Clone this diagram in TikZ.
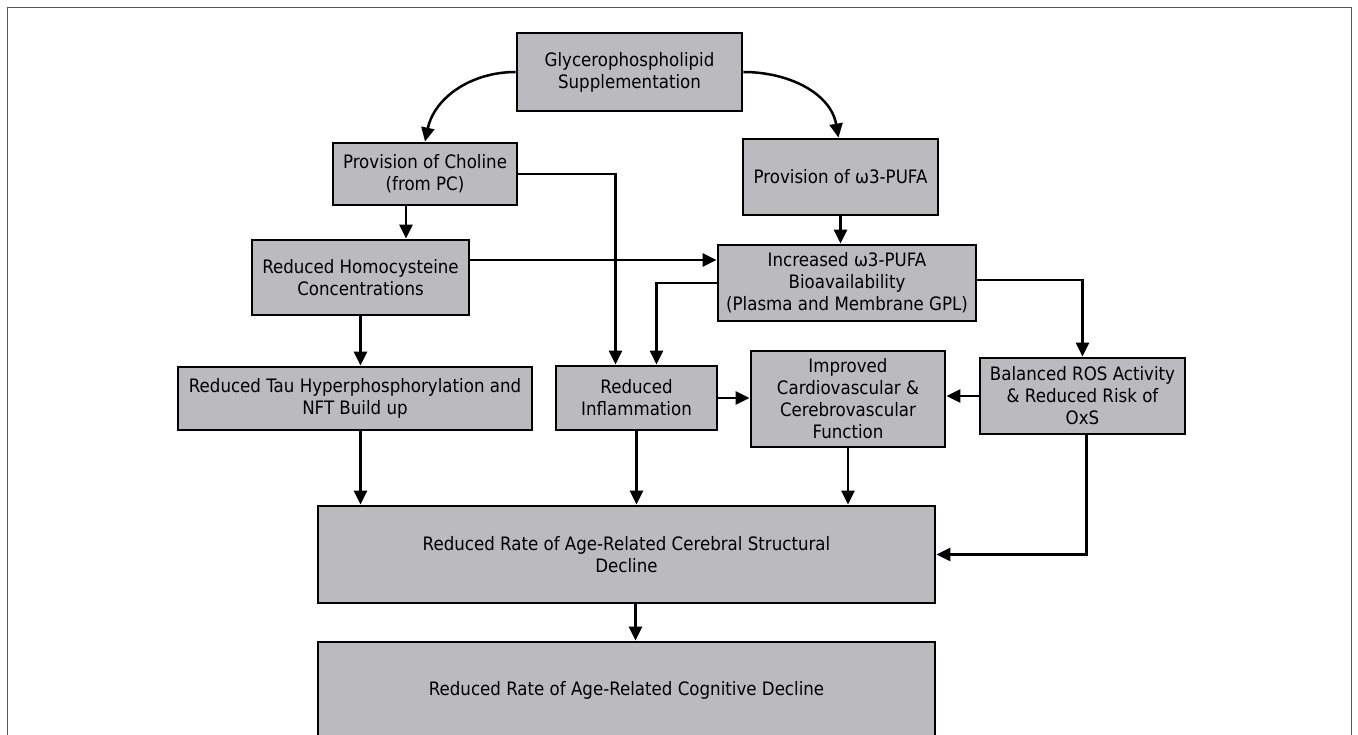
\documentclass[tikz,border=0pt]{standalone}
\usepackage{fontspec}
\setmainfont{DejaVu Sans}[FakeStretch=0.9]
\usetikzlibrary{arrows.meta}
\definecolor{boxgray}{RGB}{187,187,191}
\definecolor{framegray}{RGB}{90,90,90}
\tikzset{
  blk/.style={draw, line width=2.8pt, fill=boxgray, align=center, inner sep=0pt,
    font=\fontsize{18.5pt}{22pt}\selectfont},
  arr/.style={line width=2.5pt, -{Triangle[length=14pt,width=13pt]}}
}

\begin{document}
\begin{tikzpicture}[x=1pt,y=-1pt]
            \useasboundingbox (0,0) rectangle (1358,735);
            \clip (0,0) rectangle (1358,735);
            % frame
            \draw [line width=1pt, framegray] (7,740) -- (7,8) -- (1351,8) -- (1351,740);
            % top row
            \node [blk, minimum width=225pt, minimum height=78pt] (glyc) at (629.5,72) {Glycerophospholipid\\Supplementation};
            \node [blk, minimum width=184pt, minimum height=62pt] (chol) at (425,174) {Provision of Choline\\(from PC)};
            \node [blk, minimum width=195pt, minimum height=76pt] (pufa) at (840.5,177) {Provision of ω3-PUFA};
            % second row
            \node [blk, minimum width=217pt, minimum height=75pt] (homo) at (360.5,277.5) {Reduced Homocysteine\\Concentrations};
            \node [blk, minimum width=258pt, minimum height=76pt] (incr) at (847,283) {Increased ω3-PUFA\\Bioavailability\\(Plasma and Membrane GPL)};
            % third row
            \node [blk, minimum width=354pt, minimum height=63pt] (tau) at (355,398.5) {Reduced Tau Hyperphosphorylation and\\NFT Build up};
            \node [blk, minimum width=161pt, minimum height=64pt] (infl) at (636.5,398) {Reduced\\Inflammation};
            \node [blk, minimum width=194pt, minimum height=96pt] (impr) at (848,399) {Improved\\Cardiovascular \&\\Cerebrovascular\\Function};
            \node [blk, minimum width=205pt, minimum height=76pt] (ros) at (1082.5,396) {Balanced ROS Activity\\\& Reduced Risk of\\OxS};
            % bottom boxes
            \node [blk, minimum width=617pt, minimum height=97pt] (struct) at (626.5,554.5) {Reduced Rate of Age-Related Cerebral Structural\\Decline};
            \node [blk, minimum width=617pt, minimum height=96pt] (cog) at (626.5,690) {Reduced Rate of Age-Related Cognitive Decline};
            % curved arrows
            \draw [arr] (glyc.west) to[out=180,in=78] (chol.north);
            \draw [arr] (glyc.east) to[out=0,in=100] ([xshift=-2pt]pufa.north);
            % straight arrows
            \draw [arr] ([xshift=-19pt]chol.south) -- ([xshift=-19pt]chol.south |- homo.north);
            \draw [arr] (pufa.south) -- (pufa.south |- incr.north);
            \coordinate (hin) at ([yshift=23pt]incr.west);
            \draw [arr] (hin -| homo.east) -- (hin);
            \draw [arr] (chol.east) -| ([xshift=-21pt]infl.north);
            \draw [arr] (incr.west) -| ([xshift=20pt]infl.north);
            \draw [arr] ([yshift=3pt]incr.east) -| (ros.north);
            \draw [arr] (homo.south) -- (homo.south |- tau.north);
            \draw [arr] (infl.east) -- (infl.east -| impr.west);
            \draw [arr] (ros.west) -- (ros.west -| impr.east);
            \draw [arr] (tau.south -| homo.south) -- (struct.north -| homo.south);
            \draw [arr] (infl.south) -- (infl.south |- struct.north);
            \draw [arr] (impr.south) -- (impr.south |- struct.north);
            \draw [arr] ([xshift=4pt]ros.south) |- (struct.east);
            \draw [arr] ([xshift=9pt]struct.south) -- ([xshift=9pt]cog.north);
         \end{tikzpicture}
\end{document}
